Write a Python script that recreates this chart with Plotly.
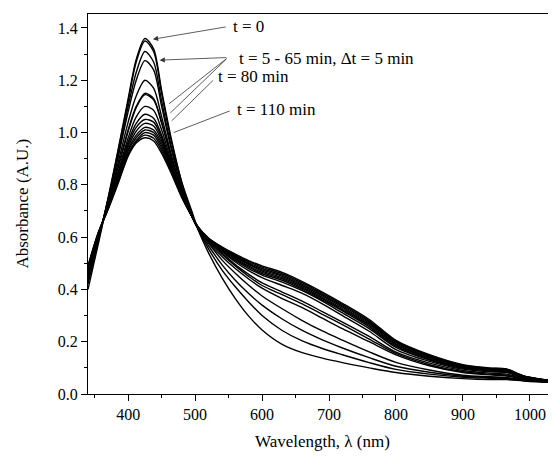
import plotly.graph_objects as go

# wavelength grid (nm)
wavelength = [340, 355, 370, 385, 400, 412, 425, 438, 450, 465, 480, 495, 505, 520, 540,
              560, 580, 600, 630, 660, 690, 720, 760, 800, 850, 900, 940, 965, 990, 1020, 1060]

# absorbance spectra, one per time step
abs_t0 = [0.42, 0.58, 0.75, 0.935, 1.13, 1.28, 1.36, 1.32, 1.16, 0.97, 0.81, 0.70, 0.625, 0.54, 0.445,
          0.365, 0.298, 0.245, 0.19, 0.158, 0.137, 0.12, 0.10, 0.082, 0.068, 0.059, 0.055, 0.055, 0.050, 0.045, 0.042]
abs_t5 = [0.40, 0.57, 0.745, 0.93, 1.12, 1.27, 1.35, 1.31, 1.15, 0.96, 0.81, 0.69, 0.627, 0.555, 0.475,
          0.41, 0.352, 0.30, 0.243, 0.203, 0.174, 0.150, 0.120, 0.094, 0.076, 0.064, 0.060, 0.058, 0.053, 0.047, 0.043]
abs_t10 = [0.43, 0.585, 0.745, 0.915, 1.10, 1.23, 1.31, 1.27, 1.12, 0.94, 0.80, 0.685, 0.628, 0.567, 0.495,
           0.435, 0.384, 0.34, 0.287, 0.243, 0.207, 0.176, 0.139, 0.106, 0.083, 0.068, 0.063, 0.060, 0.055, 0.048, 0.044]
abs_t15 = [0.44, 0.59, 0.74, 0.905, 1.08, 1.20, 1.275, 1.24, 1.10, 0.93, 0.79, 0.68, 0.629, 0.577, 0.513,
           0.462, 0.416, 0.375, 0.326, 0.281, 0.241, 0.206, 0.161, 0.121, 0.092, 0.072, 0.066, 0.063, 0.056, 0.049, 0.044]
abs_t20 = [0.45, 0.595, 0.735, 0.885, 1.04, 1.14, 1.20, 1.17, 1.06, 0.91, 0.78, 0.68, 0.63, 0.581, 0.526,
           0.48, 0.44, 0.405, 0.365, 0.33, 0.29, 0.25, 0.20, 0.15, 0.108, 0.082, 0.073, 0.069, 0.058, 0.050, 0.045]
abs_t25 = [0.45, 0.595, 0.73, 0.87, 1.01, 1.10, 1.15, 1.13, 1.04, 0.90, 0.775, 0.68, 0.631, 0.585, 0.535,
           0.49, 0.45, 0.415, 0.38, 0.345, 0.305, 0.265, 0.21, 0.155, 0.112, 0.085, 0.076, 0.072, 0.060, 0.051, 0.045]
abs_t30 = [0.46, 0.60, 0.73, 0.865, 1.005, 1.095, 1.145, 1.125, 1.035, 0.90, 0.775, 0.68, 0.632, 0.59, 0.54,
           0.495, 0.458, 0.425, 0.39, 0.355, 0.315, 0.275, 0.22, 0.16, 0.118, 0.090, 0.080, 0.076, 0.062, 0.052, 0.046]
abs_t35 = [0.46, 0.60, 0.725, 0.85, 0.98, 1.06, 1.10, 1.085, 1.01, 0.885, 0.77, 0.68, 0.633, 0.59, 0.545,
           0.505, 0.472, 0.445, 0.415, 0.385, 0.345, 0.30, 0.24, 0.17, 0.125, 0.095, 0.085, 0.082, 0.063, 0.052, 0.046]
abs_t40 = [0.47, 0.605, 0.72, 0.84, 0.965, 1.035, 1.07, 1.055, 0.99, 0.875, 0.765, 0.68, 0.634, 0.59, 0.548,
           0.51, 0.48, 0.455, 0.428, 0.395, 0.355, 0.31, 0.25, 0.178, 0.13, 0.098, 0.088, 0.085, 0.064, 0.053, 0.046]
abs_t45 = [0.47, 0.605, 0.72, 0.835, 0.955, 1.02, 1.05, 1.04, 0.98, 0.87, 0.765, 0.68, 0.634, 0.59, 0.55,
           0.515, 0.485, 0.46, 0.435, 0.40, 0.36, 0.318, 0.257, 0.183, 0.133, 0.100, 0.090, 0.087, 0.065, 0.053, 0.046]
abs_t50 = [0.47, 0.605, 0.715, 0.83, 0.945, 1.005, 1.035, 1.025, 0.97, 0.865, 0.762, 0.68, 0.635, 0.592, 0.553,
           0.52, 0.49, 0.465, 0.44, 0.405, 0.365, 0.322, 0.262, 0.188, 0.137, 0.102, 0.092, 0.089, 0.066, 0.054, 0.046]
abs_t55 = [0.48, 0.61, 0.715, 0.825, 0.935, 0.99, 1.02, 1.01, 0.96, 0.86, 0.76, 0.68, 0.635, 0.593, 0.555,
           0.523, 0.495, 0.47, 0.445, 0.41, 0.37, 0.327, 0.267, 0.192, 0.14, 0.104, 0.094, 0.091, 0.067, 0.054, 0.046]
abs_t60 = [0.48, 0.61, 0.71, 0.82, 0.93, 0.98, 1.01, 1.00, 0.95, 0.855, 0.758, 0.68, 0.636, 0.594, 0.557,
           0.526, 0.498, 0.475, 0.45, 0.415, 0.375, 0.332, 0.272, 0.196, 0.143, 0.106, 0.095, 0.092, 0.068, 0.055, 0.046]
abs_t65 = [0.48, 0.61, 0.71, 0.815, 0.92, 0.97, 1.00, 0.99, 0.94, 0.85, 0.756, 0.68, 0.636, 0.595, 0.559,
           0.529, 0.502, 0.48, 0.455, 0.42, 0.38, 0.337, 0.276, 0.199, 0.146, 0.108, 0.097, 0.094, 0.068, 0.055, 0.046]
abs_t80 = [0.49, 0.615, 0.71, 0.81, 0.915, 0.965, 0.99, 0.978, 0.93, 0.845, 0.755, 0.68, 0.636, 0.596, 0.561,
           0.532, 0.506, 0.485, 0.46, 0.425, 0.385, 0.342, 0.28, 0.202, 0.148, 0.110, 0.098, 0.095, 0.069, 0.055, 0.046]
abs_t110 = [0.49, 0.615, 0.705, 0.805, 0.91, 0.96, 0.98, 0.968, 0.92, 0.84, 0.752, 0.68, 0.637, 0.597, 0.563,
            0.535, 0.51, 0.49, 0.465, 0.43, 0.39, 0.347, 0.285, 0.205, 0.15, 0.112, 0.100, 0.096, 0.070, 0.056, 0.047]

spectra = [abs_t0, abs_t5, abs_t10, abs_t15, abs_t20, abs_t25, abs_t30, abs_t35, abs_t40,
           abs_t45, abs_t50, abs_t55, abs_t60, abs_t65, abs_t80, abs_t110]
times = [0, 5, 10, 15, 20, 25, 30, 35, 40, 45, 50, 55, 60, 65, 80, 110]

FONT = "Liberation Serif"

fig = go.Figure()
for t, a in zip(times, spectra):
    fig.add_trace(go.Scatter(x=wavelength, y=a, mode='lines', name='t = %d min' % t,
                             line=dict(color='black', width=1.4, shape='spline', smoothing=0.8),
                             showlegend=False))

# labels
fig.add_annotation(x=553, y=1.405, text="t = 0", showarrow=False, xanchor='left', yanchor='middle')
fig.add_annotation(x=562, y=1.285, text="t = 5 - 65 min, \u0394t = 5 min", showarrow=False,
                   xanchor='left', yanchor='middle')
fig.add_annotation(x=531, y=1.215, text="t = 80 min", showarrow=False, xanchor='left', yanchor='middle')
fig.add_annotation(x=560, y=1.09, text="t = 110 min", showarrow=False, xanchor='left', yanchor='middle')

# pointer lines (tail -> head)
pointers = [
    (548, 1.405, 437, 1.357, 1),
    (549, 1.287, 447, 1.277, 1),
    (549, 1.287, 461, 1.11, 0),
    (549, 1.287, 463, 1.075, 0),
    (529, 1.205, 465, 1.045, 0),
    (554, 1.085, 468, 1.0, 0),
]
for ax_, ay_, hx, hy, head in pointers:
    fig.add_annotation(x=hx, y=hy, ax=ax_, ay=ay_, xref='x', yref='y', axref='x', ayref='y',
                       text='', showarrow=True, arrowhead=2 if head else 0, arrowsize=1.3,
                       arrowwidth=0.8, arrowcolor='#333333')

# axis titles
fig.add_annotation(x=0.5, y=-0.124, xref='paper', yref='paper', text='Wavelength, \u03bb (nm)',
                   showarrow=False, font=dict(size=17), xanchor='center', yanchor='middle')
fig.add_annotation(x=-0.142, y=0.5, xref='paper', yref='paper', text='Absorbance (A.U.)',
                   showarrow=False, font=dict(size=17), textangle=-90, xanchor='center', yanchor='middle')

# the page body adds an 8 px offset, so the figure is 8 px smaller than the window
fig.update_layout(
    width=548, height=448,
    margin=dict(l=80, r=0, t=6, b=62),
    paper_bgcolor='white', plot_bgcolor='white',
    font=dict(family=FONT, size=17, color='black'),
    xaxis=dict(
        range=[340, 1039], tickvals=[400, 500, 600, 700, 800, 900, 1000],
        ticks='outside', ticklen=6, tickwidth=1.3, tickcolor='black',
        minor=dict(dtick=50, tick0=0, ticks='outside', ticklen=3, tickwidth=1.3, tickcolor='black'),
        showline=True, linecolor='black', linewidth=1.3, mirror=True,
        showgrid=False, zeroline=False, automargin=False,
        tickfont=dict(size=16),
    ),
    yaxis=dict(
        range=[0, 1.4535], tickvals=[0, 0.2, 0.4, 0.6, 0.8, 1.0, 1.2, 1.4],
        ticktext=['0.0', '0.2', '0.4', '0.6', '0.8', '1.0', '1.2', '1.4'],
        ticks='outside', ticklen=6, tickwidth=1.3, tickcolor='black',
        minor=dict(dtick=0.1, tick0=0, ticks='outside', ticklen=3, tickwidth=1.3, tickcolor='black'),
        showline=True, linecolor='black', linewidth=1.3,
        showgrid=False, zeroline=False, automargin=False,
        tickfont=dict(size=16),
    ),
)

fig.write_html("out.html")
